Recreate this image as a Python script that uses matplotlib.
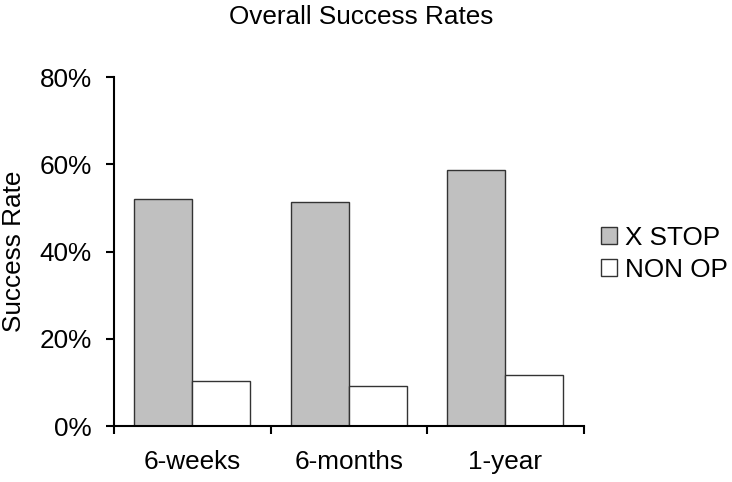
import matplotlib
matplotlib.use("Agg")
import matplotlib.pyplot as plt
import numpy as np
from matplotlib.ticker import FuncFormatter

plt.rcParams['font.family'] = ['Liberation Sans', 'DejaVu Sans']

categories = ["6-weeks", "6-months", "1-year"]
series_names = ["X STOP", "NON OP"]
x_stop = [52.0, 51.5, 58.7]
non_op = [10.4, 9.1, 11.8]
y_ticks = [0, 20, 40, 60, 80]

FS = 18.8

fig = plt.figure(figsize=(7.32, 4.82), dpi=100)
ax = fig.add_axes([114/732, 1 - 426/482, (583.5 - 114)/732, (426 - 77.3)/482])

x = np.arange(len(categories))
w = 0.37
ax.bar(x - w/2, x_stop, w, color="#c0c0c0", edgecolor="#333333", linewidth=1.0, label=series_names[0])
ax.bar(x + w/2, non_op, w, color="white", edgecolor="#333333", linewidth=1.0, label=series_names[1])

ax.set_xlim(-0.5, 2.5)
ax.set_ylim(0, 80)
ax.set_yticks(y_ticks)
ax.yaxis.set_major_formatter(FuncFormatter(lambda v, p: f"{int(v)}%"))
ax.set_xticks([-0.5, 0.5, 1.5, 2.5])
ax.set_xticklabels([])
ax.set_xticks(x, minor=True)
ax.set_xticklabels(categories, minor=True)
ax.tick_params(axis='x', which='minor', length=0, pad=17, labelsize=FS)
ax.tick_params(axis='x', which='major', length=6, width=1.5, direction='out')
ax.tick_params(axis='y', length=6, width=1.5, direction='out', labelsize=FS, pad=10)

for s in ["top", "right"]:
    ax.spines[s].set_visible(False)
for s in ["left", "bottom"]:
    ax.spines[s].set_linewidth(1.5)

fig.text(14.5/732, 1 - 251/482, "Success Rate", rotation=90, ha="center", va="center", fontsize=FS)

fig.text(361/732, 1 - 24.5/482, "Overall Success Rates", ha="center", va="baseline", fontsize=FS)

leg = fig.legend(loc="center left", bbox_to_anchor=(601/732, 1 - 254/482), frameon=False,
                 fontsize=FS, handlelength=0.62, handleheight=0.62, handletextpad=0.31,
                 labelspacing=0.3, borderpad=0, borderaxespad=0)

fig.savefig("out.png", dpi=100)
